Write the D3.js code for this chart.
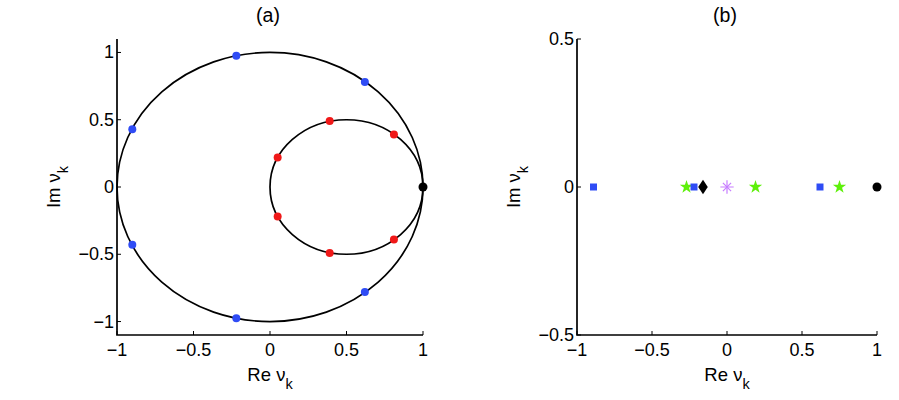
<!DOCTYPE html>
<meta charset="utf-8">
<script src="https://d3js.org/d3.v7.min.js"></script>
<style>
  body { margin: 0; background: #fff; }
  text { font-family: "Liberation Sans", Arial, sans-serif; fill: #000; }
</style>
<body>
<div id="chart"></div>
<script>
// panel (a): eigenvalues on the two circles
var blueRe = [0.62, -0.22, -0.90, -0.90, -0.22, 0.62]
var blueIm = [0.78, 0.975, 0.43, -0.43, -0.975, -0.78]
var redRe  = [0.81, 0.39, 0.05, 0.05, 0.39, 0.81]
var redIm  = [0.39, 0.49, 0.22, -0.22, -0.49, -0.39]
var blackRe = [1], blackIm = [0]
var circleCx = [0, 0.5]
var circleR  = [1, 0.5]

// panel (b): values on the real axis
var squareRe   = [-0.89, -0.22, 0.62]
var starRe     = [-0.27, 0.19, 0.75]
var diamondRe  = [-0.16]
var asteriskRe = [0]
var dotRe      = [1]

var ticksA_x = [-1, -0.5, 0, 0.5, 1]
var ticksA_y = [-1, -0.5, 0, 0.5, 1]
var ticksB_x = [-1, -0.5, 0, 0.5, 1]
var ticksB_y = [-0.5, 0, 0.5]

var W = 899, H = 400
var svg = d3.select("#chart").append("svg").attr("width", W).attr("height", H)

function fmt(v) { return v === 0 ? "0" : d3.format("")(v).replace("-", "\u2212") }

function drawAxes(g, x, y, xt, yt, title, labelY) {
  var x0 = x.range()[0], x1 = x.range()[1]
  var y0 = y.range()[0], y1 = y.range()[1]
  // ticks (inward)
  xt.forEach(function (t) {
    g.append("line").attr("x1", x(t)).attr("x2", x(t)).attr("y1", y0).attr("y2", y0 - 4)
      .attr("stroke", "#000").attr("stroke-width", 1)
    g.append("text").attr("x", x(t)).attr("y", y0 + 21).attr("text-anchor", "middle")
      .attr("font-size", 18).text(fmt(t))
  })
  yt.forEach(function (t) {
    g.append("line").attr("x1", x0).attr("x2", x0 + 4).attr("y1", y(t)).attr("y2", y(t))
      .attr("stroke", "#000").attr("stroke-width", 1)
    g.append("text").attr("x", x0 - 3).attr("y", y(t) + 6).attr("text-anchor", "end")
      .attr("font-size", 18).text(fmt(t))
  })
  g.append("path").attr("d", "M" + x0 + "," + y1 + "V" + y0 + "H" + x1)
    .attr("fill", "none").attr("stroke", "#000").attr("stroke-width", 1.7)

  g.append("text").attr("x", (x0 + x1) / 2 - 2).attr("y", 22).attr("text-anchor", "middle")
    .attr("font-size", 19.5).text(title)

  var xl = g.append("text").attr("x", (x0 + x1) / 2).attr("y", 381).attr("text-anchor", "middle")
    .attr("font-size", 18.5)
  xl.append("tspan").text("Re \u03bd")
  xl.append("tspan").attr("dy", 8).attr("font-size", 14.5).text("k")

  var yl = g.append("text").attr("transform", "translate(" + (x0 - 57) + "," + labelY + ") rotate(-90)")
    .attr("text-anchor", "middle").attr("font-size", 18.5)
  yl.append("tspan").text("Im \u03bd")
  yl.append("tspan").attr("dy", 8).attr("font-size", 14.5).text("k")
}

// ---- panel (a)
var xa = d3.scaleLinear().domain([-1, 1]).range([117, 423])
var ya = d3.scaleLinear().domain([-1.1, 1.1]).range([335, 39])
var ga = svg.append("g")

circleCx.forEach(function (c, i) {
  ga.append("ellipse").attr("cx", xa(c)).attr("cy", ya(0))
    .attr("rx", xa(circleR[i]) - xa(0)).attr("ry", ya(0) - ya(circleR[i]))
    .attr("fill", "none").attr("stroke", "#000").attr("stroke-width", 1.7)
})
drawAxes(ga, xa, ya, ticksA_x, ticksA_y, "(a)", 187)

ga.selectAll(".blue").data(blueRe).enter().append("circle")
  .attr("cx", function (d) { return xa(d) }).attr("cy", function (d, i) { return ya(blueIm[i]) })
  .attr("r", 4).attr("fill", "#2f4cf5")
ga.selectAll(".red").data(redRe).enter().append("circle")
  .attr("cx", function (d) { return xa(d) }).attr("cy", function (d, i) { return ya(redIm[i]) })
  .attr("r", 4).attr("fill", "#f01818")
ga.selectAll(".blk").data(blackRe).enter().append("circle")
  .attr("cx", function (d) { return xa(d) }).attr("cy", function (d, i) { return ya(blackIm[i]) })
  .attr("r", 4.5).attr("fill", "#000")

// ---- panel (b)
var xb = d3.scaleLinear().domain([-1, 1]).range([577, 877])
var yb = d3.scaleLinear().domain([-0.5, 0.5]).range([335, 39])
var gb = svg.append("g")
drawAxes(gb, xb, yb, ticksB_x, ticksB_y, "(b)", 187)

function sym(type, size) { return d3.symbol().type(type).size(size)() }
function at(d) { return "translate(" + xb(d) + "," + yb(0) + ")" }

gb.selectAll(".star").data(starRe).enter().append("path")
  .attr("transform", at).attr("d", sym(d3.symbolStar, 55)).attr("fill", "#5ef00a")
gb.selectAll(".sq").data(squareRe).enter().append("path")
  .attr("transform", at).attr("d", sym(d3.symbolSquare, 49)).attr("fill", "#2f4cf5")
gb.selectAll(".dia").data(diamondRe).enter().append("path")
  .attr("transform", function (d) { return at(d) + " scale(1.15,1)" })
  .attr("d", sym(d3.symbolDiamond, 60)).attr("fill", "#000")
gb.selectAll(".ast").data(asteriskRe).enter().append("g").attr("transform", at)
  .each(function () {
    var g = d3.select(this)
    g.append("path").attr("d", sym(d3.symbolPlus, 60)).attr("fill", "none").attr("stroke", "#c77dff").attr("stroke-width", 1.2)
    g.append("path").attr("d", sym(d3.symbolTimes, 45)).attr("fill", "none").attr("stroke", "#c77dff").attr("stroke-width", 1.2)
  })
gb.selectAll(".dot").data(dotRe).enter().append("circle")
  .attr("cx", function (d) { return xb(d) }).attr("cy", yb(0)).attr("r", 4.5).attr("fill", "#000")
</script>
</body>
